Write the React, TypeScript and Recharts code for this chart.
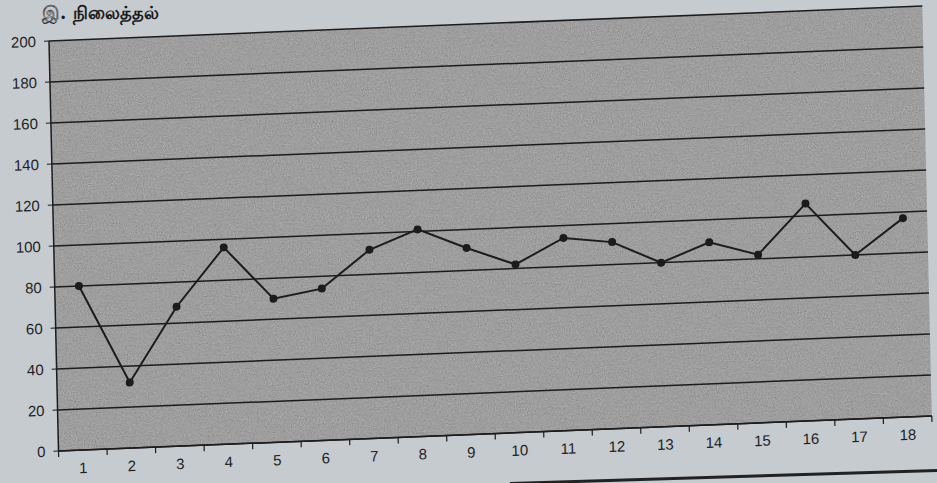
import { LineChart, Line, XAxis, YAxis, CartesianGrid } from 'recharts'

// photographed print: values read against the (tilted) grid lines
const days = ['1', '2', '3', '4', '5', '6', '7', '8', '9', '10', '11', '12', '13', '14', '15', '16', '17', '18']
const values = [80, 32, 68, 96, 70, 74, 92, 101, 91, 82, 94, 91, 80, 89, 82, 106, 80, 97]
const yTicks = [0, 20, 40, 60, 80, 100, 120, 140, 160, 180, 200]
const title = 'இ. நிலைத்தல்'

const data = days.map((d, i) => ({ day: d, value: values[i] }))

const PLOT_W = 874
const band = PLOT_W / days.length
const ink = '#1c1c1c'
const font = "'Liberation Sans', Arial, sans-serif"

function DayTick({ x, y, payload, index }: any) {
  const half = band / 2
  const last = index === days.length - 1
  return (
    <g>
      <line x1={x - half} y1={y} x2={x - half} y2={y + 6} stroke={ink} strokeWidth={1.2} />
      {last && <line x1={x + half} y1={y} x2={x + half} y2={y + 6} stroke={ink} strokeWidth={1.2} />}
      <text x={x} y={y + 23} textAnchor="middle" fill="#1e1e1e" fontSize={15} fontFamily={font}>
        {payload.value}
      </text>
    </g>
  )
}

export default function App() {
  return (
    <div
      style={{
        position: 'absolute',
        left: 0,
        top: 0,
        width: 937,
        height: 483,
        overflow: 'hidden',
        background: '#c6cbd0',
      }}
    >
      <div
        style={{
          position: 'absolute',
          left: 42,
          top: 3,
          fontFamily: "'DejaVu Serif', serif",
          fontWeight: 'bold',
          fontSize: 18,
          lineHeight: 1.1,
          color: '#1a1a1a',
          whiteSpace: 'nowrap',
        }}
      >
        {title}
      </div>
      <div
        style={{
          position: 'absolute',
          left: 0,
          top: 0,
          transformOrigin: '49px 41px',
          transform: 'matrix(0.9992, -0.04, 0.0232, 1, 0, 0)',
        }}
      >
        <LineChart width={937} height={483} data={data} margin={{ top: 41, right: 14, bottom: 0, left: 0 }}>
          <defs>
            <filter id="grain" x="0" y="0" width="100%" height="100%">
              <feTurbulence type="fractalNoise" baseFrequency="0.85" numOctaves={2} seed={4} result="noise" />
              <feColorMatrix in="noise" type="saturate" values="0" result="gray" />
              <feComponentTransfer in="gray" result="soft">
                <feFuncA type="table" tableValues="0.4 0.4" />
              </feComponentTransfer>
              <feComposite in="soft" in2="SourceGraphic" operator="atop" />
            </filter>
            <pattern id="plotTex" patternUnits="userSpaceOnUse" width={320} height={320}>
              <rect width={320} height={320} fill="#858585" filter="url(#grain)" />
            </pattern>
          </defs>
          <CartesianGrid
            vertical={false}
            stroke={ink}
            strokeWidth={1.5}
            fill="url(#plotTex)"
            fillOpacity={1}
          />
          <XAxis
            dataKey="day"
            scale="band"
            height={32}
            axisLine={{ stroke: ink, strokeWidth: 1.5 }}
            tickLine={false}
            tickSize={0}
            tickMargin={0}
            interval={0}
            tick={<DayTick />}
          />
          <YAxis
            domain={[0, 200]}
            ticks={yTicks}
            width={49}
            axisLine={{ stroke: ink, strokeWidth: 1.5 }}
            tickLine={{ stroke: ink }}
            tickSize={5}
            tickMargin={8}
            tick={{ fill: '#1e1e1e', fontSize: 15, fontFamily: font }}
          />
          <YAxis
            yAxisId="edge"
            orientation="right"
            domain={[0, 200]}
            width={0}
            tick={false}
            tickLine={false}
            axisLine={{ stroke: '#333', strokeWidth: 1.2 }}
          />
          <Line
            type="linear"
            dataKey="value"
            stroke={ink}
            strokeWidth={2}
            dot={{ r: 4, fill: ink, stroke: 'none' }}
            isAnimationActive={false}
          />
        </LineChart>
      </div>
      <div
        style={{
          position: 'absolute',
          left: 510,
          top: 482,
          width: 430,
          height: 3,
          background: '#222',
          transformOrigin: '0 50%',
          transform: 'rotate(-1.75deg)',
        }}
      />
    </div>
  )
}
